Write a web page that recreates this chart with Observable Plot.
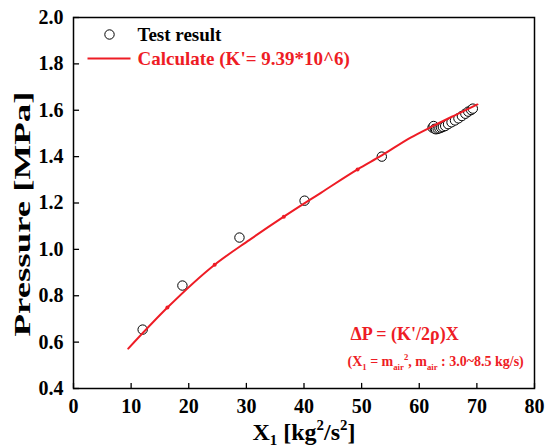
<!DOCTYPE html>
<html>
<head>
<meta charset="utf-8">
<script src="https://cdn.jsdelivr.net/npm/d3@7"></script>
<script src="https://cdn.jsdelivr.net/npm/@observablehq/plot@0.6"></script>
<style>
  body { margin: 0; background: #fff; }
  #chart svg { display: block; }
</style>
</head>
<body>
<div id="chart"></div>
<script>
// Measured pressure vs. X1 (kg^2/s^2)
const testX = [12.0, 18.9, 28.8, 40.1, 53.5, 62.3, 62.5, 62.7, 62.9, 63.2, 63.5, 63.8, 64.1, 64.5, 65.0, 65.6, 66.2, 66.8, 67.4, 68.0, 68.5, 69.0, 69.3];
const testY = [0.654, 0.844, 1.051, 1.210, 1.400, 1.525, 1.532, 1.520, 1.518, 1.520, 1.522, 1.525, 1.528, 1.532, 1.540, 1.548, 1.556, 1.565, 1.575, 1.585, 1.594, 1.601, 1.607];

// Calculated curve, K' = 9.39e6
const calcX = [9.5, 16.3, 24.5, 30.5, 36.5, 43.0, 49.3, 53.5, 58.5, 62.0, 66.0, 70.1];
const calcY = [0.572, 0.749, 0.934, 1.040, 1.141, 1.245, 1.345, 1.405, 1.482, 1.527, 1.576, 1.625];
// points on the curve carrying a small direction marker
const arrowX = [16.3, 24.5, 36.5, 49.3];

const xTicks = [0, 10, 20, 30, 40, 50, 60, 70, 80];
const yTicks = [0.4, 0.6, 0.8, 1.0, 1.2, 1.4, 1.6, 1.8, 2.0];

const legendLabels = ["Test result", "Calculate (K'= 9.39*10^6)"];
const xLabel = "X_1 [kg^2/s^2]";
const yLabel = "Pressure [MPa]";
const formulaLines = ["ΔP = (K'/2ρ)X", "(X_1 = m_{air}^2, m_{air} : 3.0~8.5 kg/s)"];

const red = "#ee1c25";
const serif = "'Liberation Serif', 'Times New Roman', serif";

const test = testX.map((x, i) => ({x, y: testY[i]}));
const calc = calcX.map((x, i) => ({x, y: calcY[i]}));
const arrows = calc.filter(d => arrowX.includes(d.x));

// a short horizontal stroke used as the legend swatch for the curve
const lineSymbol = {draw(ctx) { ctx.moveTo(-21.5, 0); ctx.lineTo(21.5, 0); }};

const plot = Plot.plot({
  width: 552,
  height: 447,
  marginLeft: 73,
  marginRight: 18,
  marginTop: 17,
  marginBottom: 59,
  style: {fontFamily: serif, background: "#fff", overflow: "visible"},
  x: {domain: [0, 80], axis: null},
  y: {domain: [0.4, 2.0], axis: null},
  marks: [
    // inward ticks
    Plot.ruleX(xTicks, {x: d => d, y1: 0.4, y2: 0.4 + 0.022, stroke: "#000", strokeWidth: 1.3}),
    Plot.ruleY(yTicks, {y: d => d, x1: 0, x2: 1.05, stroke: "#000", strokeWidth: 1.3}),
    // tick labels
    Plot.text(xTicks, {x: d => d, y: 0.4, dy: 18, text: d => String(d),
      fontSize: 20, fontWeight: "bold", fill: "#000"}),
    Plot.text(yTicks, {x: 0, y: d => d, dx: -10, text: d => d.toFixed(1), textAnchor: "end",
      fontSize: 20, fontWeight: "bold", fill: "#000"}),
    // axis titles
    Plot.text([xLabel], {frameAnchor: "bottom", dy: 44, text: d => d, lineAnchor: "middle",
      fontSize: 24, fontWeight: "bold", fill: "#000"}),
    Plot.text([yLabel], {frameAnchor: "left", dx: -51, dy: 11, rotate: -90, text: d => d,
      textAnchor: "middle", lineAnchor: "middle",
      fontSize: 23, fontWeight: "bold", fill: "#000"}),
    // data
    Plot.dot(test, {x: "x", y: "y", r: 4.7, stroke: "#000", strokeWidth: 1, fill: "#fff"}),
    Plot.line(calc, {x: "x", y: "y", stroke: red, strokeWidth: 2, curve: "monotone-x"}),
    Plot.dot(arrows, {x: "x", y: "y", r: 2, fill: red, stroke: "none"}),
    // legend
    Plot.dot([legendLabels[0]], {frameAnchor: "top-left", dx: 36, dy: 17, r: 4.7,
      stroke: "#000", strokeWidth: 1, fill: "#fff"}),
    Plot.text([legendLabels[0]], {frameAnchor: "top-left", dx: 64, dy: 17, text: d => d,
      textAnchor: "start", lineAnchor: "middle", fontSize: 19, fontWeight: "bold", fill: "#000"}),
    Plot.dot([legendLabels[1]], {frameAnchor: "top-left", dx: 35.5, dy: 41, symbol: lineSymbol,
      stroke: red, strokeWidth: 2, fill: "none"}),
    Plot.text([legendLabels[1]], {frameAnchor: "top-left", dx: 64, dy: 41, text: d => d,
      textAnchor: "start", lineAnchor: "middle", fontSize: 19, fontWeight: "bold", fill: red}),
    // formula annotation
    Plot.text([formulaLines[0]], {frameAnchor: "top-left", dx: 277, dy: 317, text: d => d,
      textAnchor: "start", lineAnchor: "middle", fontSize: 18, fontWeight: "bold", fill: red}),
    Plot.text([formulaLines[1]], {frameAnchor: "top-left", dx: 274, dy: 344, text: d => d,
      textAnchor: "start", lineAnchor: "middle", fontSize: 14, fontWeight: "bold", fill: red}),
    Plot.frame({stroke: "#000", strokeWidth: 1.5})
  ]
});

document.getElementById("chart").appendChild(plot);

// Turn _sub and ^sup markup into shifted tspans
function applyScripts(node, markup, subShift) {
  const size = parseFloat(getComputedStyle(node).fontSize) || 16;
  node.textContent = "";
  const re = /([_^])(\{[^}]*\}|.)|([^_^]+)/g;
  let m, offset = 0;
  const ns = "http://www.w3.org/2000/svg";
  while ((m = re.exec(markup))) {
    const ts = document.createElementNS(ns, "tspan");
    if (m[3]) {
      ts.textContent = m[3];
      if (offset) ts.setAttribute("dy", -offset);
      offset = 0;
    } else {
      const body = m[2].startsWith("{") ? m[2].slice(1, -1) : m[2];
      const target = m[1] === "_" ? subShift * size : -0.42 * size;
      ts.textContent = body;
      ts.setAttribute("font-size", (0.62 * size).toFixed(1));
      ts.setAttribute("dy", target - offset);
      offset = target;
    }
    node.appendChild(ts);
  }
}
d3.select(plot).selectAll("text").each(function () {
  const content = this.textContent;
  if (content === xLabel) applyScripts(this, content, 0.2);
  if (content === formulaLines[1]) applyScripts(this, content, 0.28);
  // the vertical title is set in a wide, stretched face
  if (content === yLabel) {
    const t = this.getAttribute("transform") || "";
    this.setAttribute("transform", (t + " scale(1.6,1)").trim());
  }
});
</script>
</body>
</html>
